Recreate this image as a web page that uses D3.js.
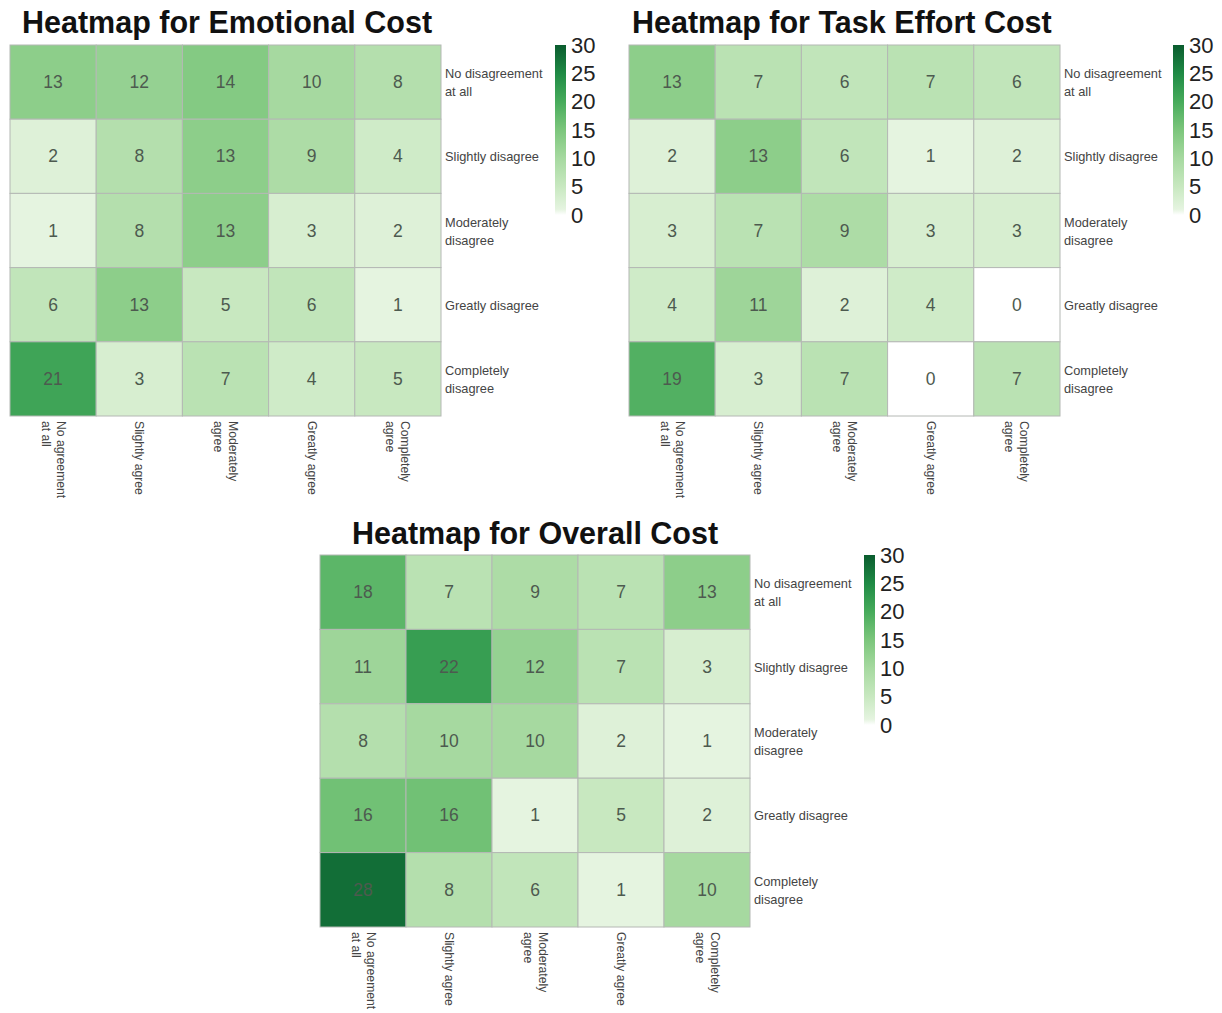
<!DOCTYPE html>
<html>
<head>
<meta charset="utf-8">
<script src="https://cdn.jsdelivr.net/npm/d3@7"></script>
<style>
  html, body { margin: 0; padding: 0; background: #ffffff; }
  svg { display: block; font-family: "Liberation Sans", Arial, sans-serif; }
</style>
</head>
<body>
<svg id="chart" width="1222" height="1013"></svg>
<script>
// Response categories
const colLabels = [["No agreement", "at all"], ["Slightly agree"], ["Moderately", "agree"], ["Greatly agree"], ["Completely", "agree"]];
const rowLabels = [["No disagreement", "at all"], ["Slightly disagree"], ["Moderately", "disagree"], ["Greatly disagree"], ["Completely", "disagree"]];
const colorTicks = [0, 5, 10, 15, 20, 25, 30];

// Counts, one row per disagreement level, one column per agreement level
const emotionalCost = [
  [13, 12, 14, 10, 8],
  [2, 8, 13, 9, 4],
  [1, 8, 13, 3, 2],
  [6, 13, 5, 6, 1],
  [21, 3, 7, 4, 5]
];
const taskEffortCost = [
  [13, 7, 6, 7, 6],
  [2, 13, 6, 1, 2],
  [3, 7, 9, 3, 3],
  [4, 11, 2, 4, 0],
  [19, 3, 7, 0, 7]
];
const overallCost = [
  [18, 7, 9, 7, 13],
  [11, 22, 12, 7, 3],
  [8, 10, 10, 2, 1],
  [16, 16, 1, 5, 2],
  [28, 8, 6, 1, 10]
];

const svg = d3.select("#chart");

const color = d3.scaleLinear()
  .domain([0, 1, 5, 10, 15, 20, 25, 30])
  .range(["#ffffff", "#e5f4e0", "#c8e8c0", "#a6d9a0", "#7cc67c", "#47ab5b", "#1f8a45", "#0a5c2e"])
  .clamp(true);

// Shared vertical gradient for the colour bars
const defs = svg.append("defs");
const grad = defs.append("linearGradient")
  .attr("id", "cbar").attr("x1", 0).attr("y1", 1).attr("x2", 0).attr("y2", 0);
[0, 1, 2.5, 5, 7.5, 10, 12.5, 15, 17.5, 20, 22.5, 25, 27.5, 30].forEach(v => {
  grad.append("stop").attr("offset", v / 30).attr("stop-color", color(v));
});

function heatmap(opts) {
  const { data, title, x0, y0, w, h, titleX, titleY, barX } = opts;
  const g = svg.append("g");

  const x = d3.scaleBand().domain(d3.range(colLabels.length)).range([x0, x0 + w]);
  const y = d3.scaleBand().domain(d3.range(rowLabels.length)).range([y0, y0 + h]);

  g.append("text")
    .attr("x", titleX).attr("y", titleY)
    .attr("font-size", 30.5).attr("font-weight", "bold").attr("fill", "#111")
    .text(title);

  const cells = data.flatMap((row, r) => row.map((v, c) => ({ r, c, v })));

  g.selectAll("rect.cell").data(cells).join("rect")
    .attr("class", "cell")
    .attr("x", d => x(d.c)).attr("y", d => y(d.r))
    .attr("width", x.bandwidth()).attr("height", y.bandwidth())
    .attr("fill", d => color(d.v))
    .attr("stroke", "#b4b8b4").attr("stroke-width", 1);

  g.selectAll("text.val").data(cells).join("text")
    .attr("class", "val")
    .attr("x", d => x(d.c) + x.bandwidth() / 2)
    .attr("y", d => y(d.r) + y.bandwidth() / 2)
    .attr("text-anchor", "middle").attr("dominant-baseline", "central")
    .attr("font-size", 17.5).attr("fill", "#4d5a4f")
    .text(d => d.v);

  // Row labels on the right
  const lh = 18;
  rowLabels.forEach((lines, i) => {
    const cy = y(i) + y.bandwidth() / 2;
    const t = g.append("text")
      .attr("font-size", 12.8).attr("fill", "#444")
      .attr("dominant-baseline", "central");
    lines.forEach((s, k) => {
      t.append("tspan")
        .attr("x", x0 + w + 4)
        .attr("y", cy + (k - (lines.length - 1) / 2) * lh)
        .text(s);
    });
  });

  // Column labels, rotated to read downward
  const lw = 15;
  colLabels.forEach((lines, i) => {
    const cx = x(i) + x.bandwidth() / 2;
    const t = g.append("text")
      .attr("transform", `translate(${cx},${y0 + h + 5}) rotate(90)`)
      .attr("font-size", 12.2).attr("fill", "#444")
      .attr("dominant-baseline", "central");
    lines.forEach((s, k) => {
      t.append("tspan")
        .attr("x", 0)
        .attr("y", (k - (lines.length - 1) / 2) * lw)
        .text(s);
    });
  });

  // Colour bar
  const barTop = y0, barH = 170, barW = 11;
  g.append("rect")
    .attr("x", barX).attr("y", barTop).attr("width", barW).attr("height", barH)
    .attr("fill", "url(#cbar)");
  const cs = d3.scaleLinear().domain([0, 30]).range([barTop + barH, barTop]);
  const axis = g.append("g")
    .attr("transform", `translate(${barX + barW},0)`)
    .call(d3.axisRight(cs).tickValues(colorTicks).tickSize(0).tickPadding(5));
  axis.select(".domain").remove();
  axis.selectAll("text")
    .attr("font-size", 22).attr("fill", "#222")
    .attr("font-family", "\"Liberation Sans\", Arial, sans-serif");
}

heatmap({ data: emotionalCost, title: "Heatmap for Emotional Cost",
  x0: 10, y0: 45, w: 431, h: 371, titleX: 22, titleY: 33, barX: 555 });
heatmap({ data: taskEffortCost, title: "Heatmap for Task Effort Cost",
  x0: 629, y0: 45, w: 431, h: 371, titleX: 632, titleY: 33, barX: 1173 });
heatmap({ data: overallCost, title: "Heatmap for Overall Cost",
  x0: 320, y0: 555, w: 430, h: 372, titleX: 352, titleY: 544, barX: 864 });
</script>
</body>
</html>
